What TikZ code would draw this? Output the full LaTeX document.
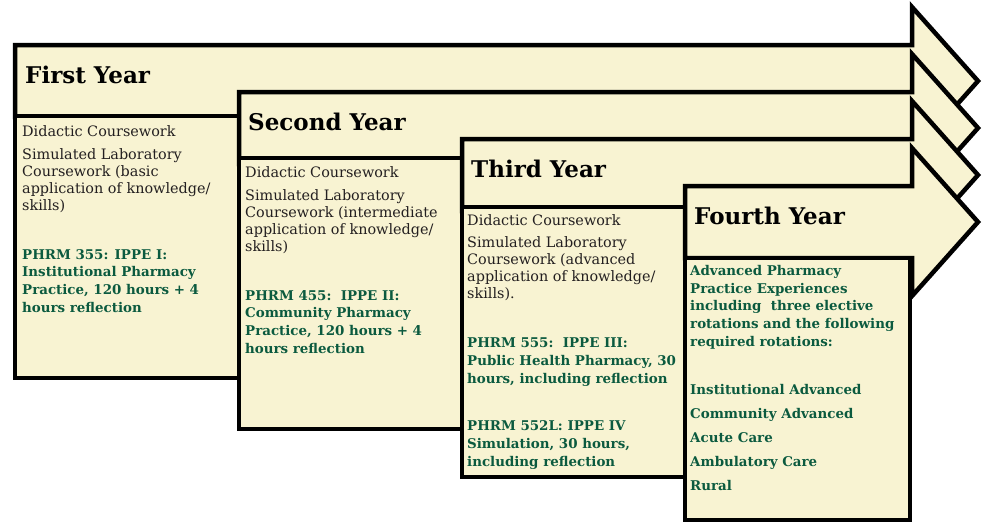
\documentclass[tikz,border=0pt]{standalone}
\usepackage{fontspec}
\setmainfont{DejaVu Serif}
\definecolor{cream}{HTML}{F8F3D2}
\definecolor{pine}{HTML}{0B5A3F}
\definecolor{ink}{HTML}{231F20}

\begin{document}
\begin{tikzpicture}[x=1pt,y=-1pt,
		yearband/.style={draw=black,fill=cream,line width=4.5pt,line join=miter},
		yearbox/.style={draw=black,fill=cream,line width=4.5pt},
		yeartitle/.style={anchor=base west,inner sep=0pt,font=\fontsize{23}{26}\selectfont\bfseries},
		coursetext/.style={anchor=base west,inner sep=0pt,align=left,text=ink,font=\fontsize{14.4}{16.7}\selectfont},
		ippetext/.style={anchor=base west,inner sep=0pt,align=left,text=pine,font=\fontsize{13.4}{17.6}\selectfont\bfseries}]
		\useasboundingbox (0,0) rectangle (983,522);

		% first year (multi-line texts sit on the baseline of their last line)
		\draw[yearband] (15,45) -- (912,45) -- (912,7) -- (978,81) -- (912,155) -- (912,117) -- (15,117) -- cycle;
		\node[yeartitle] (t1) at (25,83) {First Year};
		\draw[yearbox] (15,116) rectangle (239,378);
		\node[coursetext] (did1) at (22,136) {Didactic Coursework};
		\node[coursetext] (sim1) at (22,210) {Simulated Laboratory\\Coursework (basic\\application of knowledge/\\skills)};
		\node[ippetext] (ippe1) at (22,312) {PHRM 355: IPPE I:\\Institutional Pharmacy\\Practice, 120 hours + 4\\hours reflection};

		% second year
		\draw[yearband] (239,92) -- (912,92) -- (912,54) -- (978,128) -- (912,202) -- (912,164) -- (239,164) -- cycle;
		\node[yeartitle] (t2) at (248,130) {Second Year};
		\draw[yearbox] (239,158) rectangle (462,429);
		\node[coursetext] (did2) at (245,177) {Didactic Coursework};
		\node[coursetext] (sim2) at (245,251) {Simulated Laboratory\\Coursework (intermediate\\application of knowledge/\\skills)};
		\node[ippetext] (ippe2) at (245,353) {PHRM 455:~~IPPE II:\\Community Pharmacy\\Practice, 120 hours + 4\\hours reflection};

		% third year
		\draw[yearband] (462,139) -- (912,139) -- (912,101) -- (978,175) -- (912,249) -- (912,211) -- (462,211) -- cycle;
		\node[yeartitle] (t3) at (471,177) {Third Year};
		\draw[yearbox] (462,207) rectangle (685,477);
		\node[coursetext] (did3) at (467,225) {Didactic Coursework};
		\node[coursetext] (sim3) at (467,298) {Simulated Laboratory\\Coursework (advanced\\application of knowledge/\\skills).};
		\node[ippetext] (ippe3) at (467,383) {PHRM 555:~~IPPE III:\\Public Health Pharmacy, 30\\hours, including reflection};
		\node[ippetext] (ippe4) at (467,466) {PHRM 552L: IPPE IV\\Simulation, 30 hours,\\including reflection};

		% fourth year
		\draw[yearband] (685,186) -- (912,186) -- (912,148) -- (978,222) -- (912,296) -- (912,258) -- (685,258) -- cycle;
		\node[yeartitle] (t4) at (694,224) {Fourth Year};
		\draw[yearbox] (685,258) rectangle (910,520);
		\node[ippetext] (appe) at (690,346) {Advanced Pharmacy\\Practice Experiences\\including~~three elective\\rotations and the following\\required rotations:};
		\node[ippetext] (rot1) at (690,394) {Institutional Advanced};
		\node[ippetext] (rot2) at (690,418) {Community Advanced};
		\node[ippetext] (rot3) at (690,442) {Acute Care};
		\node[ippetext] (rot4) at (690,466) {Ambulatory Care};
		\node[ippetext] (rot5) at (690,490) {Rural};
	\end{tikzpicture}
\end{document}
